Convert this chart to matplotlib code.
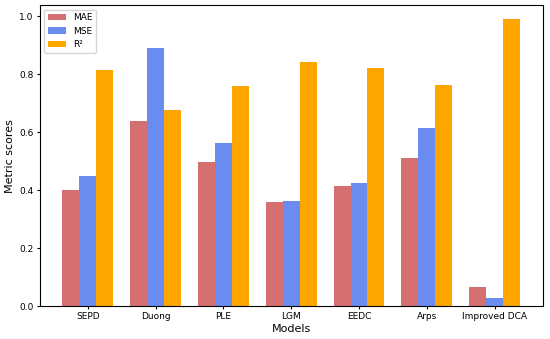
import numpy as np
import matplotlib
matplotlib.use("Agg")
import matplotlib.pyplot as plt

models = ["SEPD", "Duong", "PLE", "LGM", "EEDC", "Arps", "Improved DCA"]
mae = [0.401, 0.638, 0.496, 0.359, 0.415, 0.511, 0.067]
mse = [0.450, 0.892, 0.564, 0.363, 0.423, 0.614, 0.029]
r2 = [0.816, 0.678, 0.761, 0.843, 0.820, 0.763, 0.989]

x = np.arange(len(models))
w = 0.25

fig, ax = plt.subplots(figsize=(5.5, 3.39), dpi=100)
ax.bar(x - w, mae, w, color="#d57070", label="MAE")
ax.bar(x, mse, w, color="#6a8bf0", label="MSE")
ax.bar(x + w, r2, w, color="#ffa500", label="R²")

ax.set_xticks(x)
ax.set_xticklabels(models)
ax.tick_params(labelsize=6.5, length=2.5, pad=2)
ax.set_xlabel("Models", fontsize=8, labelpad=2)
ax.set_ylabel("Metric scores", fontsize=8, labelpad=3)
ax.legend(loc="upper left", fontsize=6.5)

fig.subplots_adjust(left=0.072, right=0.987, top=0.985, bottom=0.097)
fig.savefig("out.png", dpi=100)
